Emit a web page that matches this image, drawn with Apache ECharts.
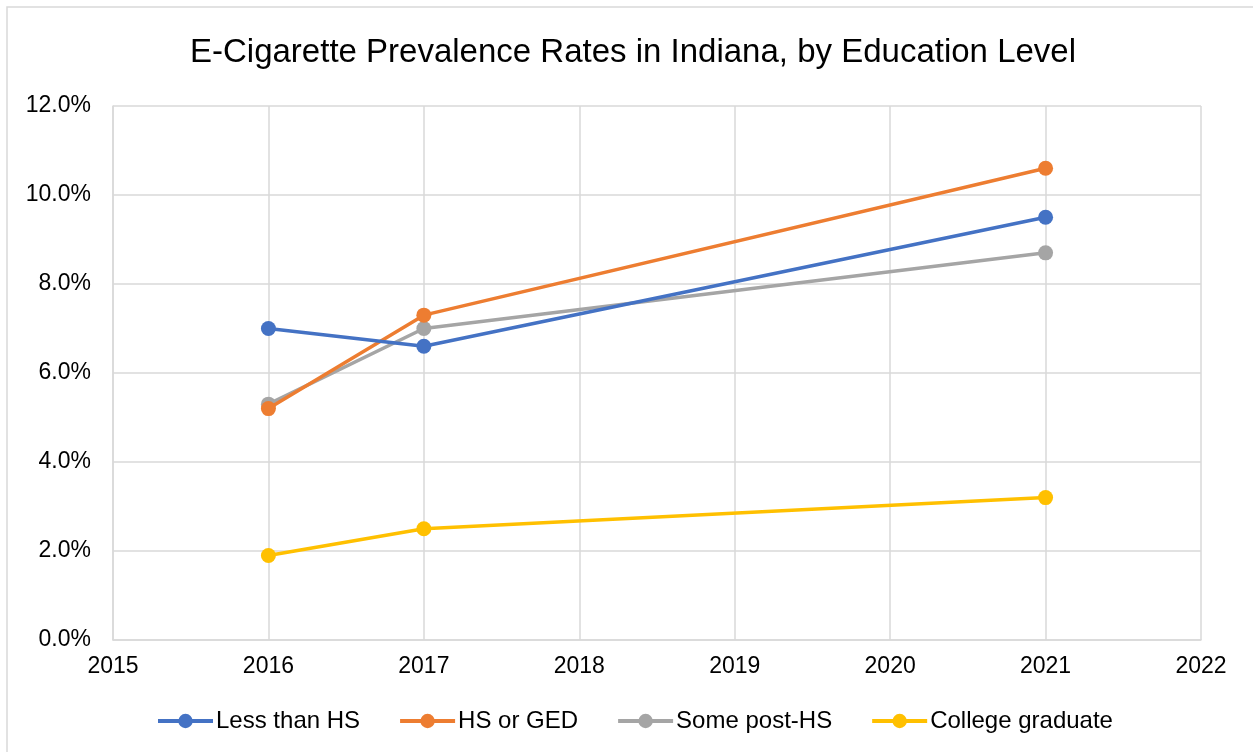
<!DOCTYPE html>
<html>
<head>
<meta charset="utf-8">
<style>
  html, body { margin: 0; padding: 0; background: #fff; }
  #chart { width: 1253px; height: 752px; }
</style>
<script src="https://cdn.jsdelivr.net/npm/echarts@6/dist/echarts.min.js"></script>
</head>
<body>
<div id="chart"></div>
<script>
// Survey years and prevalence rates (%) by education level
const years = [2016, 2017, 2021];
const lessThanHS = [7.0, 6.6, 9.5];
const hsOrGED = [5.2, 7.3, 10.6];
const somePostHS = [5.3, 7.0, 8.7];
const collegeGrad = [1.9, 2.5, 3.2];
const seriesNames = ['Less than HS', 'HS or GED', 'Some post-HS', 'College graduate'];
const seriesColors = ['#4472C4', '#ED7D31', '#A5A5A5', '#FFC000'];

const pairs = (ys) => years.map((x, i) => [x, ys[i]]);
const allValues = [lessThanHS, hsOrGED, somePostHS, collegeGrad];
const labelFont = 'Liberation Sans, Arial, sans-serif';

const chart = echarts.init(document.getElementById('chart'));
chart.setOption({
  backgroundColor: '#fff',
  animation: false,
  graphic: [{
    type: 'rect',
    shape: { x: 7, y: 7, width: 1260, height: 760 },
    style: { fill: 'none', stroke: '#D9D9D9', lineWidth: 1.5 },
    silent: true
  }],
  title: {
    text: 'E-Cigarette Prevalence Rates in Indiana, by Education Level',
    left: 185,
    top: 31,
    textStyle: {
      fontFamily: labelFont,
      fontWeight: 'normal',
      fontSize: 33,
      color: '#000'
    }
  },
  grid: { left: 113, right: 52, top: 106, bottom: 112 },
  legend: {
    top: 704,
    left: 151,
    itemWidth: 55,
    itemHeight: 18,
    itemGap: 38,
    data: seriesNames,
    lineStyle: { width: 4 },
    textStyle: { fontFamily: labelFont, fontSize: 24, color: '#000', padding: [0, 0, 0, -2] }
  },
  xAxis: {
    type: 'value',
    min: 2015,
    max: 2022,
    interval: 1,
    axisLine: { show: true, lineStyle: { color: '#D9D9D9', width: 1.5 } },
    axisTick: { show: false },
    splitLine: { show: true, lineStyle: { color: '#D9D9D9', width: 1.5 } },
    axisLabel: {
      formatter: (v) => String(v),
      margin: 15,
      fontFamily: labelFont,
      fontSize: 23,
      color: '#000'
    }
  },
  yAxis: {
    type: 'value',
    min: 0,
    max: 12,
    interval: 2,
    axisLine: { show: true, lineStyle: { color: '#D9D9D9', width: 1.5 } },
    axisTick: { show: false },
    splitLine: { show: true, lineStyle: { color: '#D9D9D9', width: 1.5 } },
    axisLabel: {
      formatter: (v) => v.toFixed(1) + '%',
      margin: 22,
      fontFamily: labelFont,
      fontSize: 23,
      color: '#000'
    }
  },
  series: seriesNames.map((name, i) => ({
    name,
    type: 'line',
    data: pairs(allValues[i]),
    symbol: 'circle',
    symbolSize: 15,
    lineStyle: { width: 3.5, color: seriesColors[i] },
    itemStyle: { color: seriesColors[i] },
    z: 10 - i
  }))
});
</script>
</body>
</html>
